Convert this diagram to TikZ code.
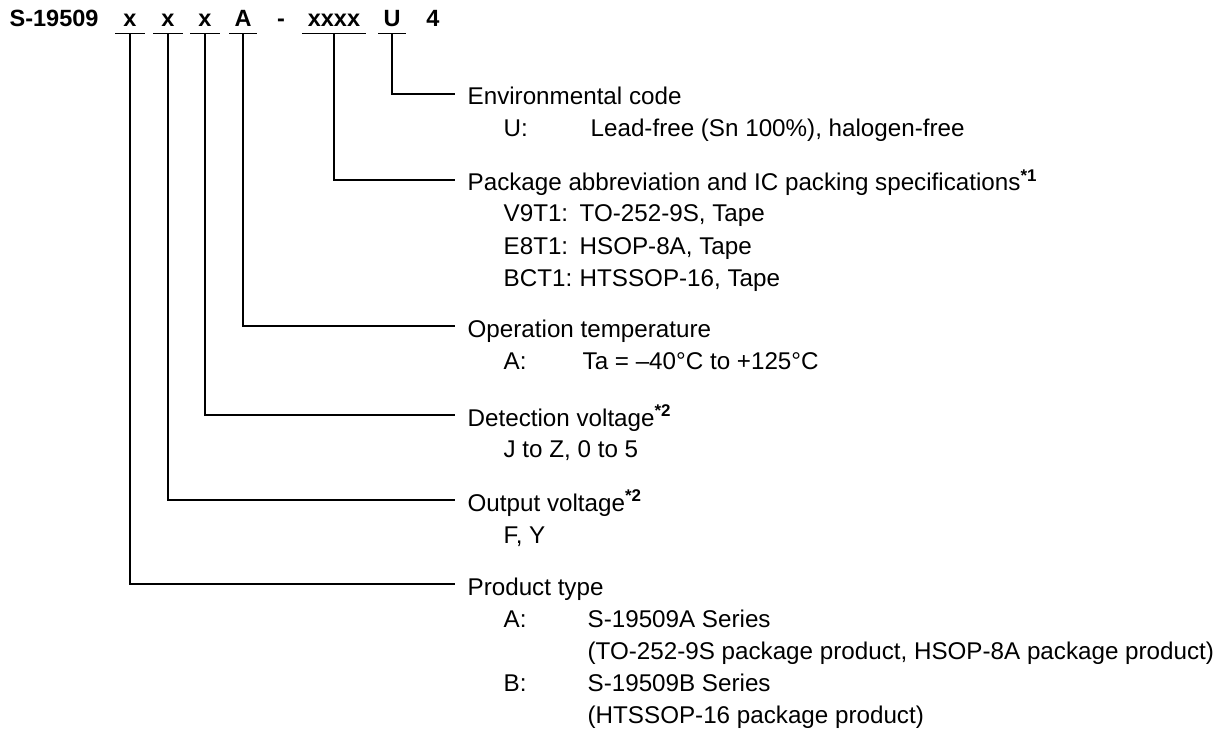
\documentclass[tikz,border=0pt]{standalone}
\usepackage{fontspec}
\setmainfont{Liberation Sans}
\newcommand{\bodysize}{\fontsize{24.2}{29}\selectfont}
\newcommand{\headsize}{\fontsize{23.5}{28}\selectfont}
\tikzset{every picture/.style={line width=1.3pt}}
\tikzset{
  code/.style={font=\headsize\bfseries, anchor=base, inner xsep=0pt, inner ysep=6pt, text depth=0pt},
  title/.style={font=\bodysize, anchor=base west, inner sep=0pt},
  item/.style={font=\bodysize, anchor=base west, inner sep=0pt},
}
\begin{document}
\begin{tikzpicture}[x=1pt,y=1pt,yscale=-1,xscale=1]
        \useasboundingbox (0,0) rectangle (1219,733);

        % Text Node
        \node [code, anchor=base west] (pre) at (9,27) {S-19509};
        % Text Node
        \node [code, minimum width=28pt] (cx1) at (130,27) {x};
        % Text Node
        \node [code, minimum width=28pt] (cx2) at (168,27) {x};
        % Text Node
        \node [code, minimum width=28pt] (cx3) at (205,27) {x};
        % Text Node
        \node [code, minimum width=26pt] (ca) at (243,27) {A};
        % Text Node
        \node [code] (dash) at (281,27) {-};
        % Text Node
        \node [code, minimum width=63pt] (cpkg) at (334,27) {xxxx};
        % Text Node
        \node [code, minimum width=26pt] (cu) at (392,27) {U};
        % Text Node
        \node [code] (c4) at (433,27) {4};

        % line ends
        \coordinate (eEnv) at (455,94);
        \coordinate (ePkg) at (455,180);
        \coordinate (eOp) at (455,326);
        \coordinate (eDet) at (455,415);
        \coordinate (eOut) at (455,500);
        \coordinate (eProd) at (455,584);

        %Straight Lines
        \draw (cu.south west) -- (cu.south east) (cu.south) |- (eEnv);
        %Straight Lines
        \draw (cpkg.south west) -- (cpkg.south east) (cpkg.south) |- (ePkg);
        %Straight Lines
        \draw (ca.south west) -- (ca.south east) (ca.south) |- (eOp);
        %Straight Lines
        \draw (cx3.south west) -- (cx3.south east) (cx3.south) |- (eDet);
        %Straight Lines
        \draw (cx2.south west) -- (cx2.south east) (cx2.south) |- (eOut);
        %Straight Lines
        \draw (cx1.south west) -- (cx1.south east) (cx1.south) |- (eProd);

        % Text Node
        \node [title] (envT) at (467,105) {Environmental code};
        \node [item] (envU) at (503,137) {\makebox[87pt][l]{U:}Lead-free (Sn 100\%), halogen-free};
        % Text Node
        \node [title] (pkgT) at (467,191) {Package abbreviation and IC packing specifications\textsuperscript{\bfseries *1}};
        \node [item] (pkgA) at (503,222) {\makebox[76pt][l]{V9T1:}TO-252-9S, Tape};
        \node [item] (pkgB) at (503,254) {\makebox[76pt][l]{E8T1:}HSOP-8A, Tape};
        \node [item] (pkgC) at (503,286) {\makebox[76pt][l]{BCT1:}HTSSOP-16, Tape};
        % Text Node
        \node [title] (opT) at (467,337) {Operation temperature};
        \node [item] (opA) at (503,369) {\makebox[79pt][l]{A:}Ta = --40°C to +125°C};
        % Text Node
        \node [title] (detT) at (467,426) {Detection voltage\textsuperscript{\bfseries *2}};
        \node [item] (detA) at (503,457) {J to Z, 0 to 5};
        % Text Node
        \node [title] (outT) at (467,511) {Output voltage\textsuperscript{\bfseries *2}};
        \node [item] (outA) at (503,543) {F, Y};
        % Text Node
        \node [title] (prodT) at (467,595) {Product type};
        \node [item] (prodA) at (503,627) {\makebox[84pt][l]{A:}S-19509A Series};
        \node [item] (prodA2) at (587,659) {(TO-252-9S package product, HSOP-8A package product)};
        \node [item] (prodB) at (503,691) {\makebox[84pt][l]{B:}S-19509B Series};
        \node [item] (prodB2) at (587,723) {(HTSSOP-16 package product)};
\end{tikzpicture}
\end{document}
